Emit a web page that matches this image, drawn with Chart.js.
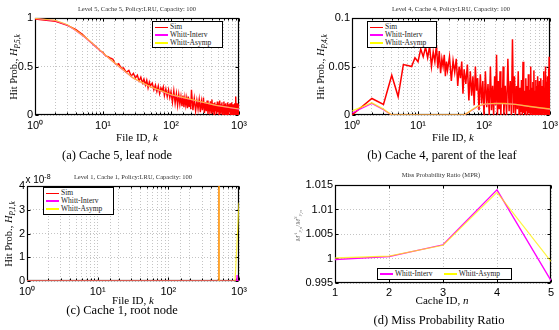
<!DOCTYPE html>
<html>
<head>
<meta charset="utf-8">
<script src="https://cdn.jsdelivr.net/npm/chart.js@4/dist/chart.umd.min.js"></script>
<style>
  body { margin:0; width:559px; height:330px; background:#fff; position:relative; overflow:hidden; font-family:"Liberation Serif", "DejaVu Serif", serif; }
  canvas { position:absolute; }
  .t { position:absolute; white-space:nowrap; transform:translate(-50%,-50%); color:#000; }
  .ttl { font-size:6.5px; color:#333; }
  .xl { font-size:11px; }
  .cap { font-size:12.5px; }
  .yl { font-size:10.5px; transform:translate(-50%,-50%) rotate(-90deg); }
  .lg { position:absolute; background:#fff; border:1px solid #000; font-size:7.5px; font-weight:normal; color:#222; box-sizing:border-box; padding:1px 2px; line-height:8px; }
  .ln { display:inline-block; width:13px; height:1.6px; vertical-align:middle; margin-right:2px; }
  sub, sup { font-size:70%; }
</style>
</head>
<body>
<canvas id="ca"></canvas>
<canvas id="cb"></canvas>
<canvas id="cc"></canvas>
<canvas id="cd"></canvas>

<div class="t ttl" style="left:137px;top:8px">Level 5, Cache 5, Policy:LRU, Capacity: 100</div>
<div class="t ttl" style="left:451px;top:8px">Level 4, Cache 4, Policy:LRU, Capacity: 100</div>
<div class="t ttl" style="left:133px;top:176px">Level 1, Cache 1, Policy:LRU, Capacity: 100</div>
<div class="t ttl" style="left:441px;top:174px">Miss Probability Ratio (MPR)</div>

<div class="t yl" style="left:15px;top:67px">Hit Prob., <i>H</i><sub><i>P,5,k</i></sub></div>
<div class="t yl" style="left:322px;top:67px">Hit Prob., <i>H</i><sub><i>P,4,k</i></sub></div>
<div class="t yl" style="left:10px;top:234px">Hit Prob., <i>H</i><sub><i>P,1,k</i></sub></div>
<div class="t yl" style="left:298px;top:226px;font-size:7px;color:#777"><i>M</i><sup><i>A</i></sup><sub><i>P,n</i></sub>/<i>M</i><sup><i>S</i></sup><sub><i>P,n</i></sub></div>

<div class="t xl" style="left:137px;top:137px">File ID, <i>k</i></div>
<div class="t xl" style="left:453px;top:137px">File ID, <i>k</i></div>
<div class="t xl" style="left:133px;top:300px">File ID, <i>k</i></div>
<div class="t xl" style="left:442px;top:300px">Cache ID, <i>n</i></div>

<div class="t cap" style="left:117px;top:155px">(a) Cache 5, leaf node</div>
<div class="t cap" style="left:442px;top:155px">(b) Cache 4, parent of the leaf</div>
<div class="t cap" style="left:122px;top:310px">(c) Cache 1, root node</div>
<div class="t cap" style="left:439px;top:320px">(d) Miss Probability Ratio</div>

<div class="t" style="left:38px;top:179px;font-family:'Liberation Sans',sans-serif;font-size:10px">x 10<sup>-8</sup></div>

<div class="lg" style="left:152px;top:21px;width:71px;height:27px">
  <div><span class="ln" style="background:#ff0000;height:1px"></span>Sim</div>
  <div><span class="ln" style="background:#ff00ff"></span>Whitt-Interv</div>
  <div><span class="ln" style="background:#ffff00;height:2px"></span>Whitt-Asymp</div>
</div>
<div class="lg" style="left:367px;top:21px;width:70px;height:27px">
  <div><span class="ln" style="background:#ff0000;height:1px"></span>Sim</div>
  <div><span class="ln" style="background:#ff00ff"></span>Whitt-Interv</div>
  <div><span class="ln" style="background:#ffff00;height:2px"></span>Whitt-Asymp</div>
</div>
<div class="lg" style="left:43px;top:187px;width:71px;height:28px">
  <div><span class="ln" style="background:#ff0000;height:1px"></span>Sim</div>
  <div><span class="ln" style="background:#ff00ff"></span>Whitt-Interv</div>
  <div><span class="ln" style="background:#ffff00;height:2px"></span>Whitt-Asymp</div>
</div>
<div class="lg" style="left:377px;top:268px;width:135px;height:12px;padding:0 2px;line-height:10px">
  <span class="ln" style="background:#ff00ff"></span>Whitt-Interv&nbsp;&nbsp;&nbsp;&nbsp;&nbsp;&nbsp;<span class="ln" style="background:#ffff00;height:2px"></span>Whitt-Asymp
</div>

<script>
// ---- data ----
// (a) level 5 / cache 5
const kWhittA = [1, 2, 3, 4, 6, 8, 10, 13, 18, 28, 50, 100, 260, 460, 1000];
const asympA  = [0.995, 0.975, 0.93, 0.87, 0.78, 0.70, 0.64, 0.57, 0.49, 0.38, 0.29, 0.21, 0.14, 0.10, 0.062];
const intervA = [0.995, 0.973, 0.928, 0.868, 0.778, 0.698, 0.638, 0.568, 0.488, 0.378, 0.288, 0.208, 0.139, 0.099, 0.061];
const kSimA = [1,2,3,4,5,6,7,8,9,10,11,12,13,14,15,16,17,18,19,20,
  22,24,26,28,30,32,34,36,38,40,42,44,46,48,50,53,56,59,62,65,68,71,74,77,80,84,88,92,96,100,
  105,110,115,120,125,130,135,140,145,150,155,160,165,170,175,180,185,190,195,200,
  210,220,230,240,250,260,270,280,290,300,310,320,330,340,350,360,370,380,390,400,
  410,420,430,440,450,460,470,480,490,500,510,520,530,540,550,560,570,580,590,600,
  610,620,630,640,650,660,670,680,690,700,710,720,730,740,750,760,770,780,790,800,
  810,820,830,840,850,860,870,880,890,900,910,920,930,940,950,960,970,980,990,1000];
const simA = [0.99,0.965,0.925,0.88,0.83,0.775,0.735,0.70,0.665,0.645,0.61,0.60,0.585,0.575,0.53,0.52,0.53,0.50,0.48,0.485,
  0.44,0.46,0.40,0.43,0.38,0.41,0.35,0.39,0.33,0.37,0.31,0.36,0.28,0.34,0.30,0.33,0.26,0.31,0.24,0.30,0.22,0.28,0.25,0.29,0.20,0.27,0.19,0.26,0.18,0.24,
  0.13,0.25,0.12,0.22,0.10,0.21,0.11,0.19,0.09,0.20,0.08,0.18,0.10,0.17,0.07,0.19,0.09,0.16,0.06,0.26,
  0.05,0.17,0.04,0.15,0.06,0.16,0.03,0.14,0.05,0.18,0.02,0.13,0.04,0.15,0.01,0.12,0.05,0.14,0.02,0.16,
  0.03,0.12,0.00,0.13,0.04,0.11,0.01,0.14,0.03,0.12,0.00,0.15,0.02,0.11,0.04,0.13,0.00,0.10,0.03,0.14,
  0.01,0.11,0.00,0.12,0.03,0.10,0.00,0.13,0.02,0.11,0.00,0.09,0.03,0.12,0.00,0.10,0.02,0.13,0.00,0.09,
  0.03,0.11,0.00,0.10,0.02,0.12,0.00,0.09,0.01,0.19,0.00,0.10,0.02,0.12,0.00,0.09,0.01,0.11,0.00,0.10];

// (b) level 4 / cache 4
const kWhittB = [1, 2, 3, 4, 5, 10, 20, 40, 50, 60, 70, 80, 100, 150, 200, 300, 500, 700, 1000];
const asympB  = [0.004, 0.0125, 0.006, 0, 0, 0, 0, 0, 0, 0.0035, 0.0065, 0.009, 0.0112, 0.012, 0.0118, 0.011, 0.0088, 0.0075, 0.0062];
const intervB = [0.002, 0.012, 0.0055, 0, 0, 0, 0, 0, 0, 0.0033, 0.0063, 0.0088, 0.011, 0.0119, 0.0117, 0.0109, 0.0087, 0.0074, 0.0061];
const kSimB = [1,2,3,4,5,6,7,8,9,10,11,12,13,14,15,16,17,18,19,20,21,22,23,24,25,26,27,28,
  30,32,34,36,38,40,42,44,46,48,50,53,56,59,62,65,68,71,74,77,80,84,88,92,96,100,
  105,110,115,120,125,130,135,140,145,150,155,160,165,170,175,180,185,190,195,200,
  210,220,230,240,250,260,270,280,290,300,310,320,330,340,350,360,370,380,390,400,
  410,420,430,440,450,460,470,480,490,500,510,520,530,540,550,560,570,580,590,600,
  610,620,630,640,650,660,670,680,690,700,710,720,730,740,750,760,770,780,790,800,
  810,820,830,840,850,860,870,880,890,900,910,920,930,940,950,960,970,980,990,1000];
const simB = [0,0.017,0.011,0.041,0.019,0.052,0.051,0.050,0.059,0.055,0.068,0.060,0.070,0.059,0.071,0.050,0.065,0.055,0.072,0.048,0.066,0.043,0.058,0.050,0.062,0.040,0.055,0.046,
  0.060,0.035,0.056,0.044,0.058,0.030,0.050,0.038,0.055,0.022,0.047,0.032,0.052,0.015,0.045,0.020,0.040,0.010,0.050,0.025,0.038,0.005,0.042,0.012,0.035,0.000,
  0.045,0.008,0.032,0.000,0.050,0.005,0.030,0.000,0.040,0.010,0.062,0.000,0.035,0.006,0.045,0.000,0.028,0.012,0.050,0.000,
  0.030,0.000,0.058,0.004,0.035,0.000,0.078,0.002,0.040,0.000,0.030,0.006,0.045,0.000,0.028,0.003,0.036,0.000,0.055,0.002,
  0.025,0.000,0.038,0.004,0.030,0.000,0.042,0.002,0.026,0.000,0.050,0.003,0.028,0.000,0.034,0.002,0.046,0.000,0.025,0.004,
  0.036,0.000,0.030,0.002,0.040,0.000,0.028,0.003,0.035,0.000,0.024,0.002,0.038,0.000,0.030,0.004,0.026,0.000,0.036,0.002,
  0.045,0.000,0.028,0.003,0.050,0.000,0.030,0.002,0.034,0.000,0.040,0.003,0.026,0.000,0.048,0.002,0.060,0.000,0.035,0.020];

// (c) level 1 / cache 1
const kSimC = [1, 519, 520, 521, 1000];
const simC  = [0, 0, 1e-6, 0, 0];
const kIntervC = [1, 930, 937, 944, 1000];
const intervC  = [0, 0, 0.25e-8, 0, 0];
const kAsympC = [1, 520, 521, 522, 880, 1000];
const asympC  = [0, 0, 1e-6, 0, 0, 3.3e-8];

// (d) miss probability ratio
const cacheIds = [1, 2, 3, 4, 5];
const intervD  = [0.9998, 1.0004, 1.0028, 1.0140, 0.9955];
const asympD   = [1.0001, 1.0005, 1.0027, 1.0135, 0.9994];

// ---- drawing ----
const RED = '#ff0000', MAG = '#ff00ff', YEL = 'rgba(255,240,0,0.75)';
const SUP = ['⁰', '¹', '²', '³'];
function logTick(v) {
  const e = Math.log10(v), r = Math.round(e);
  return Math.abs(e - r) < 1e-9 ? '10' + SUP[r] : '';
}
const pts = (xs, ys) => xs.map((x, i) => ({x: x, y: ys[i]}));
const line = (data, color, order, w) => ({data: data, borderColor: color, borderWidth: w || 1.2, pointRadius: 0, tension: 0, order: order});

const tickFont = {family: '"Liberation Sans", Arial, sans-serif', size: 11};
const grid = {color: '#c4c4c4', lineWidth: 1, drawTicks: false};
const border = {display: false, dash: [1, 2]};

// black box + inward ticks, matlab style
const frame = {
  id: 'frame',
  beforeDatasetsDraw(chart) {
    const ctx = chart.ctx, a = chart.chartArea;
    const l = Math.round(a.left) + 0.5, r = Math.round(a.right) - 0.5;
    const t = Math.round(a.top) + 0.5, b = Math.round(a.bottom) - 0.5;
    ctx.save();
    ctx.setLineDash([]);
    ctx.strokeStyle = '#000';
    ctx.lineWidth = 1;
    ctx.beginPath();
    chart.scales.x.ticks.forEach(tk => {
      const px = Math.round(chart.scales.x.getPixelForValue(tk.value)) + 0.5;
      const len = tk.label === '' ? 2 : 3;
      ctx.moveTo(px, b); ctx.lineTo(px, b - len);
      ctx.moveTo(px, t); ctx.lineTo(px, t + len);
    });
    chart.scales.y.ticks.forEach(tk => {
      const py = Math.round(chart.scales.y.getPixelForValue(tk.value)) + 0.5;
      ctx.moveTo(l, py); ctx.lineTo(l + 3, py);
      ctx.moveTo(r, py); ctx.lineTo(r - 3, py);
    });
    ctx.stroke();
    ctx.lineWidth = 1.2;
    ctx.strokeRect(l, t, r - l, b - t);
    ctx.restore();
  }
};

function panel(id, box, datasets, xOpt, yOpt) {
  const yw = 40, xh = 28, pad = 14;
  const c = document.getElementById(id);
  const w = box.W + yw + 2 * pad, h = box.H + xh + 2 * pad;
  c.width = w; c.height = h;
  c.style.width = w + 'px'; c.style.height = h + 'px';
  c.style.left = (box.L - yw - pad) + 'px';
  c.style.top = (box.T - pad) + 'px';
  xOpt.afterFit = s => { s.height = xh; };
  yOpt.afterFit = s => { s.width = yw; };
  return new Chart(c, {
    type: 'line',
    data: {datasets: datasets},
    options: {
      responsive: false, animation: false, devicePixelRatio: 1,
      layout: {padding: pad},
      plugins: {legend: {display: false}, tooltip: {enabled: false}},
      scales: {x: xOpt, y: yOpt}
    },
    plugins: [frame]
  });
}

const logX = () => ({
  type: 'logarithmic', min: 1, max: 1000, grid: grid, border: border,
  ticks: {autoSkip: false, maxRotation: 0, padding: 4, color: '#000', font: tickFont, callback: logTick}
});
const linY = (min, max, step, cb) => ({
  type: 'linear', min: min, max: max, grid: grid, border: border,
  ticks: {stepSize: step, padding: 2, color: '#000', font: tickFont, callback: cb}
});

panel('ca', {L: 35, T: 18, W: 204, H: 97}, [
  line(pts(kSimA, simA), RED, 3, 1.4),
  line(pts(kWhittA, intervA), MAG, 2),
  line(pts(kWhittA, asympA), YEL, 1)
], logX(), linY(0, 1, 0.5));

panel('cb', {L: 352, T: 18, W: 198, H: 97}, [
  line(pts(kSimB, simB), RED, 3, 1.5),
  line(pts(kWhittB, intervB), MAG, 2),
  line(pts(kWhittB, asympB), YEL, 1, 1.4)
], logX(), linY(0, 0.1, 0.05));

panel('cc', {L: 27, T: 186, W: 212, H: 95}, [
  line(pts(kSimC, simC), RED, 3),
  line(pts(kIntervC, intervC), MAG, 2),
  line(pts(kAsympC, asympC), YEL, 1)
], logX(), linY(0, 4e-8, 1e-8, v => String(Math.round(v / 1e-8))));

panel('cd', {L: 335, T: 185, W: 216, H: 98}, [
  line(pts(cacheIds, intervD), MAG, 2, 1.3),
  line(pts(cacheIds, asympD), YEL, 1, 1.3)
], {
  type: 'linear', min: 1, max: 5, grid: grid, border: border,
  ticks: {stepSize: 1, padding: 3, color: '#000', font: tickFont}
}, linY(0.995, 1.015, 0.005));
</script>
</body>
</html>
